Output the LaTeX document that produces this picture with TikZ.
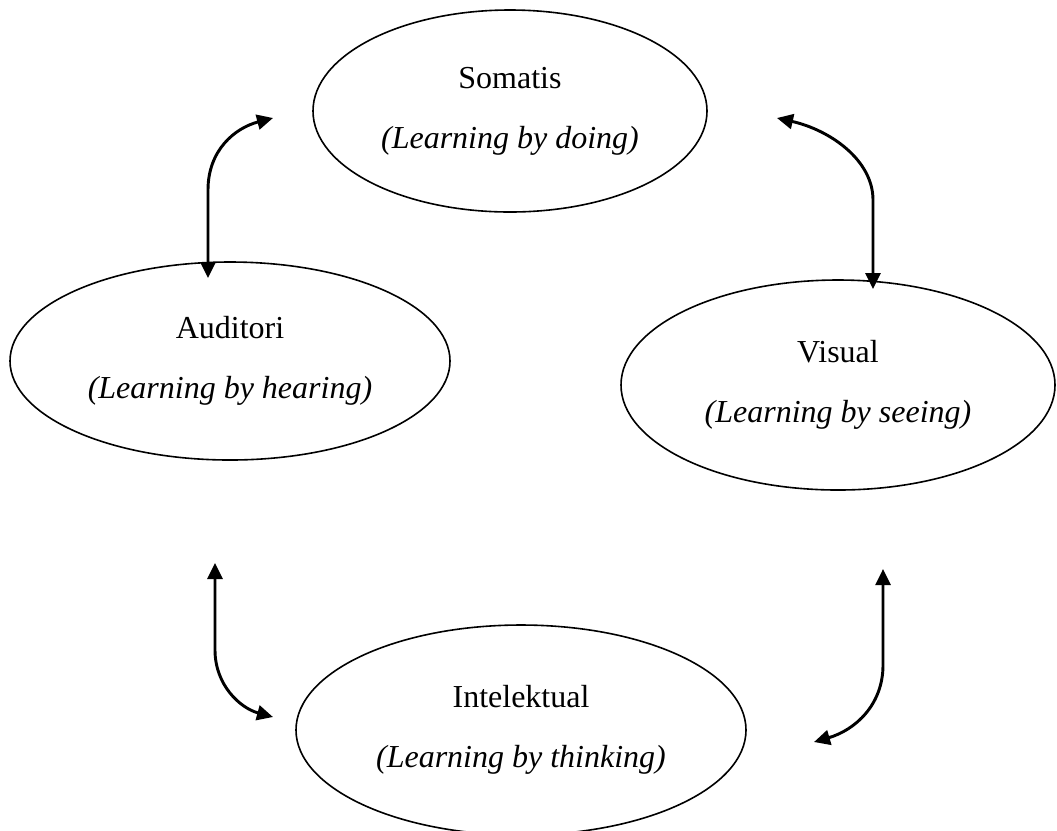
\documentclass[tikz,border=0pt]{standalone}
\usepackage{fontspec}
\setmainfont{Liberation Serif}
\usetikzlibrary{shapes.geometric,arrows.meta}

\begin{document}
\begin{tikzpicture}[x=0.375pt,y=-0.375pt]
\tikzstyle{stylebox} = [
  shape=ellipse,
  draw=black,
  line width=0.6pt,
  inner sep=0pt,
  align=center,
  font=\fontsize{12}{22.5}\selectfont
]
\tikzstyle{linkarrow} = [
  line width=1.1pt,
  {Triangle[length=6pt,width=5.6pt]}-{Triangle[length=6pt,width=5.6pt]}
]

\useasboundingbox (0,0) rectangle (1057,830);

\node [stylebox, minimum width=147.75pt, minimum height=75.75pt] (somatis) at (510,111)
  {Somatis\\\textit{(Learning by doing)}};
\node [stylebox, minimum width=165pt, minimum height=74.25pt] (auditori) at (230,361)
  {Auditori\\\textit{(Learning by hearing)}};
\node [stylebox, minimum width=162.75pt, minimum height=78.75pt] (visual) at (838,385)
  {Visual\\\textit{(Learning by seeing)}};
\node [stylebox, minimum width=168.75pt, minimum height=78.75pt] (intel) at (521,730)
  {Intelektual\\\textit{(Learning by thinking)}};

% arrow ends
\coordinate (a1) at (208,278);
\coordinate (a2) at (273,118);
\coordinate (b1) at (777,118);
\coordinate (b2) at (873,289);
\coordinate (c1) at (215,563);
\coordinate (c2) at (273,717);
\coordinate (d1) at (883,569);
\coordinate (d2) at (814,742);

\draw[linkarrow] (a1) -- (208,190) .. controls (208,150) and (235,128) .. (a2);
\draw[linkarrow] (b1) .. controls (830,130) and (873,160) .. (873,200) -- (b2);
\draw[linkarrow] (c1) -- (215,650) .. controls (215,685) and (240,708) .. (c2);
\draw[linkarrow] (d1) -- (883,665) .. controls (883,705) and (855,730) .. (d2);

\end{tikzpicture}
\end{document}
